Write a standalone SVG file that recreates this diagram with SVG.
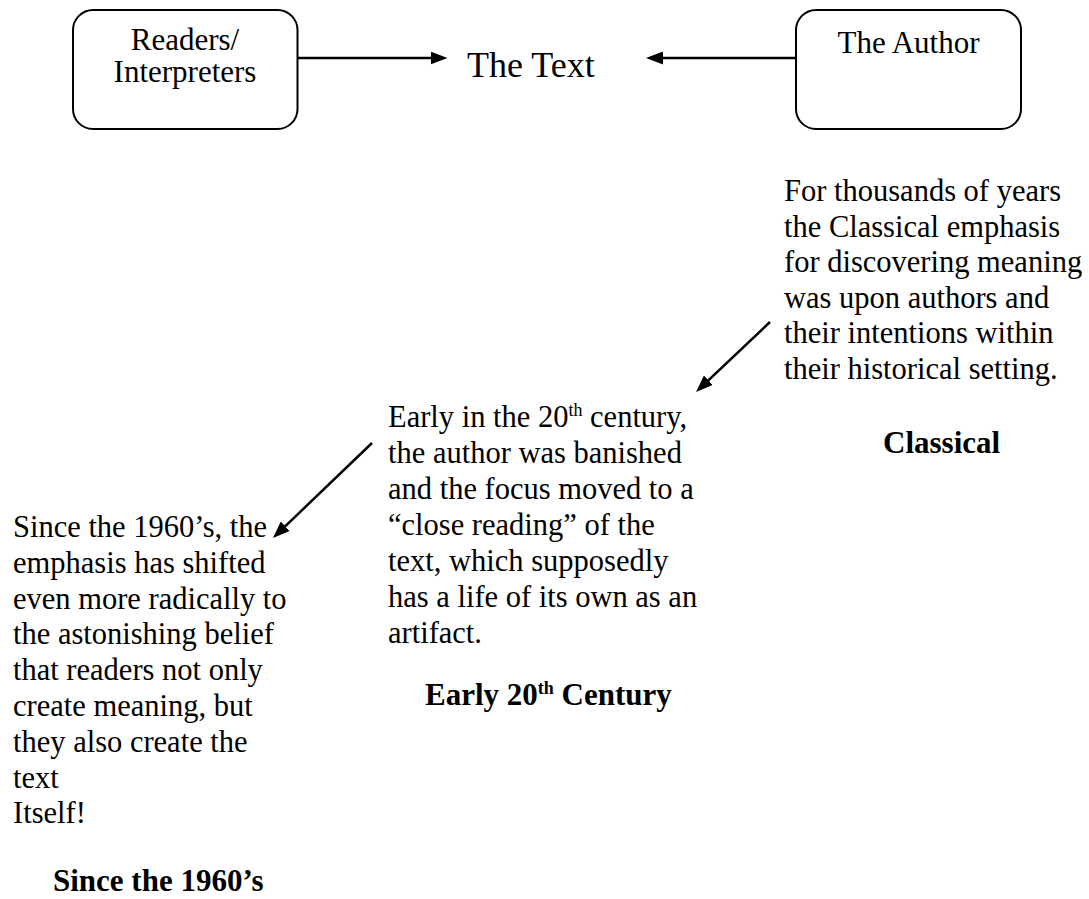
<svg xmlns="http://www.w3.org/2000/svg" width="1089" height="899" viewBox="0 0 1089 899">
  <style>
    text { font-family: "Liberation Serif", "Times New Roman", serif; fill: #000; }
    .body { font-size: 30.5px; }
    .box-label { font-size: 31px; text-anchor: middle; }
    .title { font-size: 36px; }
    .era { font-size: 31px; font-weight: bold; }
    .box { fill: #fff; stroke: #000; stroke-width: 2; }
    .conn { stroke: #000; stroke-width: 2.5; fill: none; marker-end: url(#arrow); }
  </style>
  <defs>
    <marker id="arrow" markerUnits="userSpaceOnUse" markerWidth="17" markerHeight="13" refX="7" refY="6.5" orient="auto">
      <path d="M0,0 L17,6.5 L0,13 Z" fill="#000"/>
    </marker>
  </defs>
  <rect width="1089" height="899" fill="#fff"/>

  <g id="connectors">
    <line class="conn" x1="297.5" y1="58" x2="437.5" y2="58"/>
    <line class="conn" x1="796" y1="58" x2="656" y2="58"/>
    <line class="conn" x1="770" y1="322" x2="703.3" y2="385.1"/>
    <line class="conn" x1="372" y1="443" x2="280.2" y2="531.1"/>
  </g>

  <g id="readers">
    <rect class="box" x="73" y="10" width="224.5" height="119" rx="20" ry="20"/>
    <text class="box-label" x="185" y="50">Readers/</text>
    <text class="box-label" x="185" y="82">Interpreters</text>
  </g>

  <g id="text-node">
    <text class="title" x="467" y="77">The Text</text>
  </g>

  <g id="author">
    <rect class="box" x="796" y="10" width="225" height="119" rx="20" ry="20"/>
    <text class="box-label" x="908.5" y="53">The Author</text>
  </g>

  <g id="classical">
    <text class="body" x="784" y="201">For thousands of years</text>
    <text class="body" x="784" y="236.6">the Classical emphasis</text>
    <text class="body" x="784" y="272.2">for discovering meaning</text>
    <text class="body" x="784" y="307.8">was upon authors and</text>
    <text class="body" x="784" y="343.4">their intentions within</text>
    <text class="body" x="784" y="379">their historical setting.</text>
    <text class="era" x="883" y="453">Classical</text>
  </g>

  <g id="early-20th">
    <text class="body" x="388" y="427">Early in the 20<tspan font-size="18" dy="-11">th</tspan><tspan dy="11"> century,</tspan></text>
    <text class="body" x="388" y="463">the author was banished</text>
    <text class="body" x="388" y="499">and the focus moved to a</text>
    <text class="body" x="388" y="535">“close reading” of the</text>
    <text class="body" x="388" y="571">text, which supposedly</text>
    <text class="body" x="388" y="607">has a life of its own as an</text>
    <text class="body" x="388" y="643">artifact.</text>
    <text class="era" x="425" y="705">Early 20<tspan font-size="18" dy="-11">th</tspan><tspan dy="11"> Century</tspan></text>
  </g>

  <g id="since-1960s">
    <text class="body" x="13" y="537">Since the 1960’s, the</text>
    <text class="body" x="13" y="572.8">emphasis has shifted</text>
    <text class="body" x="13" y="608.6">even more radically to</text>
    <text class="body" x="13" y="644.4">the astonishing belief</text>
    <text class="body" x="13" y="680.2">that readers not only</text>
    <text class="body" x="13" y="716">create meaning, but</text>
    <text class="body" x="13" y="751.8">they also create the</text>
    <text class="body" x="13" y="787.6">text</text>
    <text class="body" x="13" y="823.4">Itself!</text>
    <text class="era" x="53" y="891">Since the 1960’s</text>
  </g>
</svg>
